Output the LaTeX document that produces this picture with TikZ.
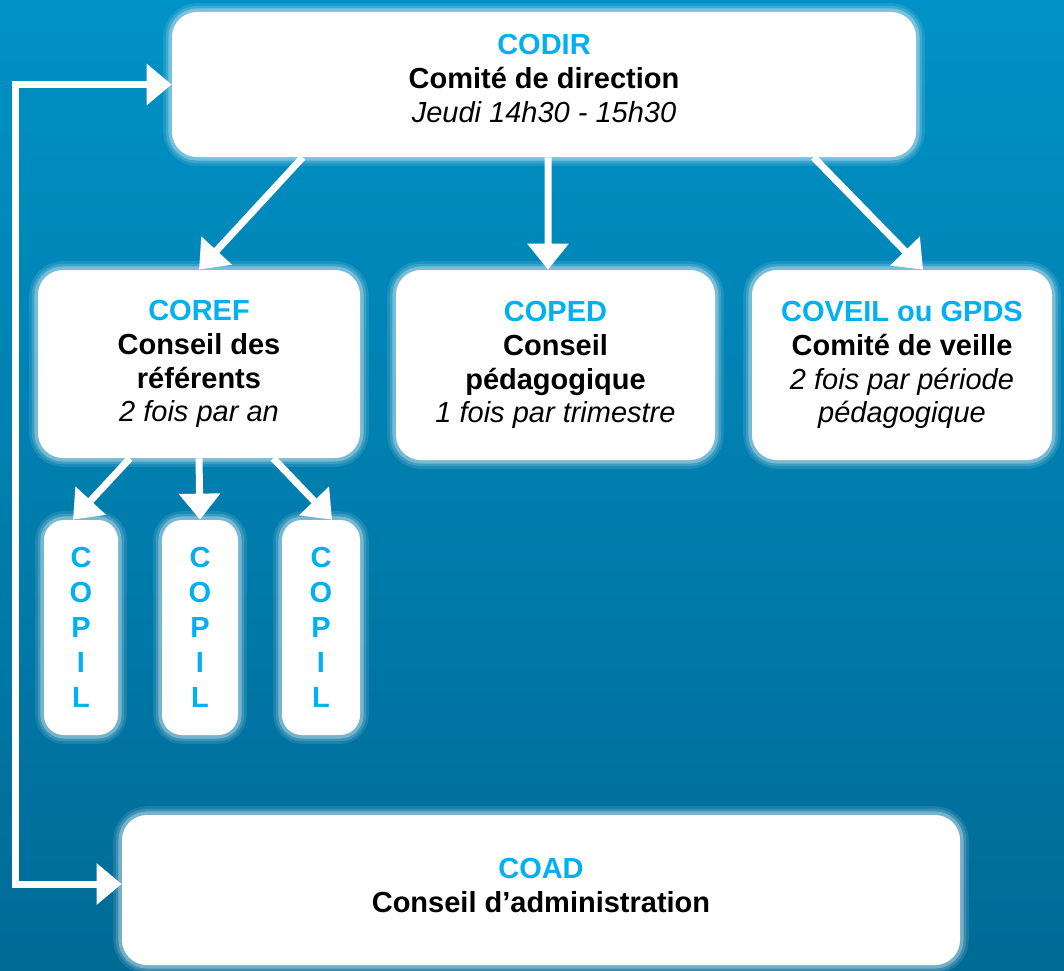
\documentclass[tikz,border=0pt]{standalone}
\usepackage{fontspec}
\setmainfont{Liberation Sans}
\usetikzlibrary{arrows.meta, calc}
\definecolor{bgtop}{RGB}{0, 146, 198}
\definecolor{bgbottom}{RGB}{0, 106, 150}
\definecolor{titleblue}{RGB}{0, 176, 240}
\newcommand{\acr}[1]{\textcolor{titleblue}{#1}}
\newcommand{\when}[1]{{\normalfont\itshape #1}}
\tikzset{
  box/.style={fill=white, rounded corners=0.5cm, align=center, inner sep=0pt,
    font=\fontsize{16.5}{19.3}\selectfont\bfseries,
    preaction={draw=white, line width=10pt, opacity=0.1},
    preaction={draw=white, line width=7pt, opacity=0.15},
    preaction={draw=white, line width=4pt, opacity=0.3}},
  copil/.style={box, rounded corners=0.4cm, text=titleblue,
    font=\fontsize{16.5}{19.9}\selectfont\bfseries,
    minimum height=4.3cm},
  link/.style={draw=white, line width=0.14cm, -{Triangle[length=0.52cm, width=0.8cm]}},
}

\begin{document}
\begin{tikzpicture}
  % Background
  \useasboundingbox (0, 0) rectangle (21.28, -19.4);
  \shade[top color=bgtop, bottom color=bgbottom] (0, 0) rectangle (21.28, -19.4);

  % Direction
  \node[box, minimum width=14.88cm, minimum height=2.9cm, text depth=0.24cm] (codir) at (10.88, -1.69) {
    \acr{CODIR}\\ Comité de direction\\ \when{Jeudi 14h30 - 15h30}
  };

  % Three councils
  \node[box, minimum width=6.44cm, minimum height=3.76cm] (coref) at (3.98, -7.28) {
    \acr{COREF}\\ Conseil des\\ référents\\ \when{2 fois par an}
  };
  \node[box, minimum width=6.38cm, minimum height=3.8cm] (coped) at (11.11, -7.30) {
    \acr{COPED}\\ Conseil\\ pédagogique\\ \when{1 fois par trimestre}
  };
  \node[box, minimum width=6.0cm, minimum height=3.8cm] (coveil) at (18.04, -7.30) {
    \acr{COVEIL ou GPDS}\\ Comité de veille\\ \when{2 fois par période}\\ \when{pédagogique}
  };

  % Steering groups
  \node[copil, minimum width=1.48cm] (copil1) at (1.62, -12.55) {C\\O\\P\\I\\L};
  \node[copil, minimum width=1.52cm] (copil2) at (4.00, -12.55) {C\\O\\P\\I\\L};
  \node[copil, minimum width=1.56cm] (copil3) at (6.42, -12.55) {C\\O\\P\\I\\L};

  % Administration
  \node[box, minimum width=16.76cm, minimum height=3.0cm, text depth=0.2cm] (coad) at (10.82, -17.8) {
    \acr{COAD}\\ Conseil d’administration
  };

  % Links
  \draw[link] ($(codir.south west)!0.176!(codir.south east)$) -- (coref.north);
  \draw[link] ([xshift=0.08cm]codir.south) -- ([xshift=-0.15cm]coped.north);
  \draw[link] ($(codir.south west)!0.862!(codir.south east)$) -- ($(coveil.north west)!0.57!(coveil.north east)$);

  \draw[link] ($(coref.south west)!0.286!(coref.south east)$) -- ([xshift=-0.16cm]copil1.north);
  \draw[link] (coref.south) -- (copil2.north);
  \draw[link] ($(coref.south west)!0.73!(coref.south east)$) -- ([xshift=0.22cm]copil3.north);

  \draw[link, {Triangle[length=0.5cm, width=0.8cm]}-{Triangle[length=0.5cm, width=0.8cm]}]
    (codir.west) -- ++(-3.12, 0) |- ([yshift=0.12cm]coad.west);
\end{tikzpicture}
\end{document}
